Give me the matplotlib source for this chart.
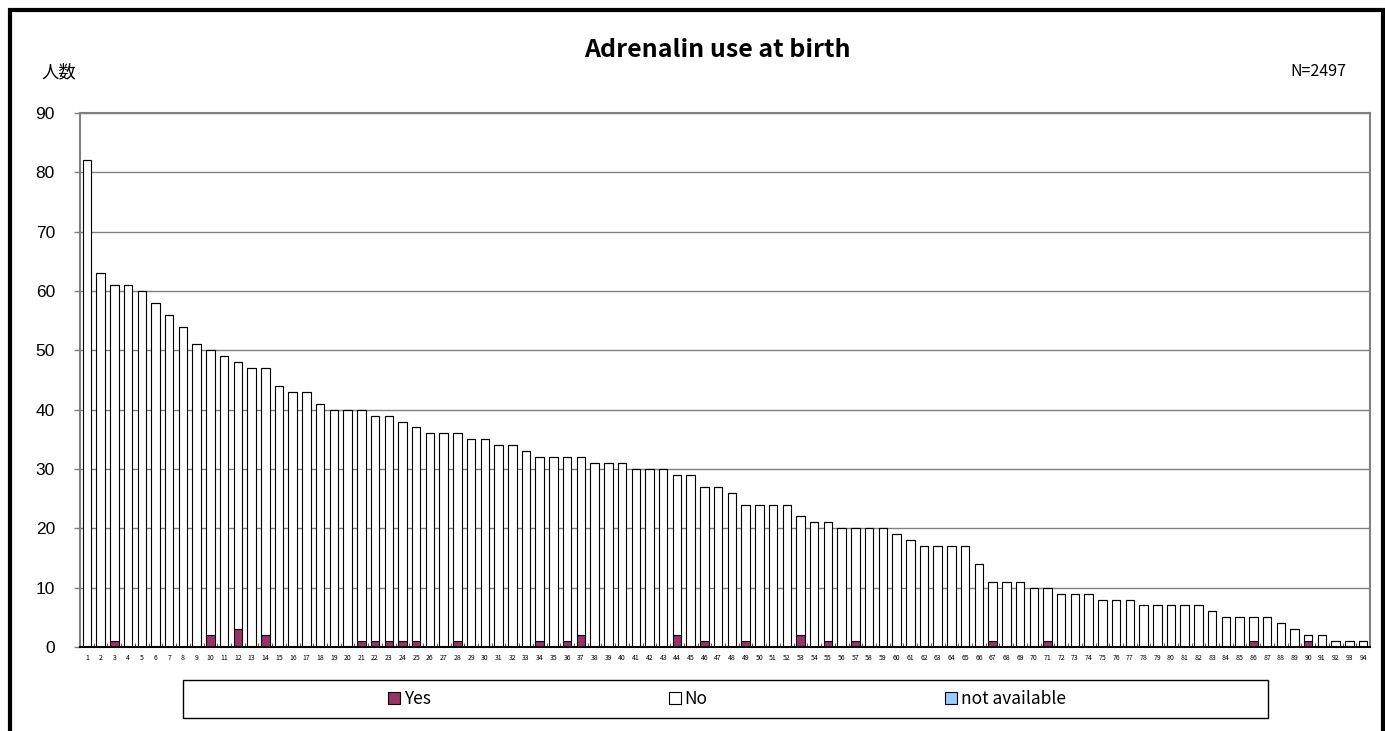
import numpy as np
import matplotlib.pyplot as plt
from matplotlib.patches import Rectangle

plt.rcParams['font.family'] = ['Noto Sans CJK JP', 'DejaVu Sans']

totals = [82, 63, 61, 61, 60, 58, 56, 54, 51, 50,
          49, 48, 47, 47, 44, 43, 43, 41, 40, 40,
          40, 39, 39, 38, 37, 36, 36, 36, 35, 35,
          34, 34, 33, 32, 32, 32, 32, 31, 31, 31,
          30, 30, 30, 29, 29, 27, 27, 26, 24, 24,
          24, 24, 22, 21, 21, 20, 20, 20, 20, 19,
          18, 17, 17, 17, 17, 14, 11, 11, 11, 10,
          10, 9, 9, 9, 8, 8, 8, 7, 7, 7,
          7, 7, 6, 5, 5, 5, 5, 4, 3, 2,
          2, 1, 1, 1]
yes_idx = {3: 1, 10: 2, 12: 3, 14: 2, 21: 1, 22: 1, 23: 1, 24: 1, 25: 1,
           28: 1, 34: 1, 36: 1, 37: 2, 44: 2, 46: 1, 49: 1, 53: 2, 55: 1,
           57: 1, 67: 1, 71: 1, 86: 1, 90: 1}
labels = [str(i) for i in range(1, len(totals) + 1)]
yes = [yes_idx.get(i, 0) for i in range(1, len(totals) + 1)]
na = [0] * len(totals)
no = [t - y - n for t, y, n in zip(totals, yes, na)]

fig = plt.figure(figsize=(13.85, 7.31), dpi=100)
ax = fig.add_axes([80 / 1385, 1 - 647 / 731, 1290 / 1385, 534 / 731])

x = np.arange(len(totals))
w = 0.62
b1 = ax.bar(x, yes, w, color='#993366', edgecolor='black', linewidth=0.8, label='Yes')
b2 = ax.bar(x, no, w, bottom=yes, color='white', edgecolor='black', linewidth=0.8, label='No')
bottom2 = [a + b for a, b in zip(yes, no)]
b3 = ax.bar(x, na, w, bottom=bottom2, color='#99CCFF', edgecolor='black', linewidth=0.8,
            label='not available')

ax.set_xlim(-0.5, len(totals) - 0.5)
ax.set_ylim(0, 90)
ax.set_yticks(range(0, 91, 10))
ax.tick_params(axis='y', labelsize=12.5, length=4, width=1, color='#808080', pad=14)
for t in ax.get_yticklabels():
    t.set_family(['Liberation Sans', 'DejaVu Sans'])
ax.set_xticks(x)
ax.set_xticklabels(labels, fontsize=5)
ax.tick_params(axis='x', length=0, pad=5)
ax.set_xticks(np.arange(-0.5, len(totals), 1), minor=True)
ax.tick_params(axis='x', which='minor', direction='in', length=3, color='#404040')
ax.yaxis.grid(True, color='#808080', linewidth=1)
ax.set_axisbelow(True)
for s in ax.spines.values():
    s.set_color('#808080')
    s.set_linewidth(1.5)
ax.spines['bottom'].set_color('black')

fig.text(717 / 1385, 1 - 50 / 731, 'Adrenalin use at birth', ha='center', va='center',
         fontsize=18, fontweight='bold')
fig.text(41 / 1385, 1 - 72 / 731, '人数', ha='left', va='center', fontsize=12.5)
fig.text(1346 / 1385, 1 - 72 / 731, 'N=2497', ha='right', va='center', fontsize=11.5)

# legend box and entries
fig.patches.append(Rectangle((183 / 1385, 1 - 718 / 731), 1085 / 1385, 38 / 731,
                             transform=fig.transFigure, fill=False,
                             edgecolor='black', linewidth=1))
leg = fig.legend(handles=[b1, b2, b3], loc='center', ncol=3,
                 bbox_to_anchor=(727 / 1385, 1 - 699 / 731),
                 fontsize=12.5, frameon=False,
                 handlelength=0.7, handleheight=0.7, handletextpad=0.2,
                 columnspacing=13.7, borderaxespad=0)

fig.patches.append(Rectangle((10 / 1385, -0.1), 1373 / 1385, 1.1 - 10 / 731,
                             transform=fig.transFigure, fill=False,
                             edgecolor='black', linewidth=3))

fig.savefig('out.png', dpi=100)
